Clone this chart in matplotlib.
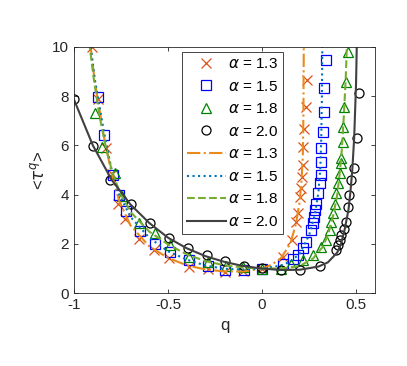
import matplotlib
matplotlib.use("Agg")
import matplotlib.pyplot as plt

plt.rcParams['font.family'] = ['Liberation Sans', 'DejaVu Sans']
plt.rcParams['mathtext.fontset'] = 'dejavusans'

# ---- marker data (simulation) ----
q13 = [-0.905, -0.875, -0.83, -0.80, -0.765, -0.73, -0.655, -0.575, -0.496, -0.39, -0.29, -0.195,
       -0.10, 0.0, 0.11, 0.16, 0.18, 0.19, 0.20, 0.205, 0.212, 0.218, 0.218, 0.221, 0.232, 0.241]
t13 = [10.0, 7.9, 5.9, 4.85, 3.64, 3.0, 2.2, 1.75, 1.41, 1.08, 0.97, 0.87,
       0.88, 1.0, 1.45, 2.15, 2.9, 3.25, 3.9, 4.26, 4.73, 5.2, 5.95, 6.65, 7.57, 8.66]

q15 = [-0.875, -0.84, -0.795, -0.76, -0.722, -0.647, -0.572, -0.49, -0.389, -0.29, -0.198, -0.094,
       0.0, 0.11, 0.164, 0.19, 0.218, 0.235, 0.262, 0.271, 0.276, 0.283, 0.289, 0.298, 0.307,
       0.312, 0.312, 0.316, 0.325, 0.328, 0.328, 0.339]
t15 = [7.95, 6.42, 4.8, 3.98, 3.33, 2.53, 1.98, 1.68, 1.35, 1.1, 0.95, 0.95,
       1.0, 1.2, 1.37, 1.54, 1.82, 2.09, 2.56, 2.83, 3.1, 3.37, 3.64, 4.05, 4.46,
       4.8, 5.34, 5.88, 6.56, 7.37, 8.32, 9.47]

q18 = [-0.888, -0.849, -0.78, -0.745, -0.652, -0.572, -0.49, -0.389, -0.29, -0.19, -0.10, 0.0,
       0.10, 0.155, 0.218, 0.271, 0.316, 0.342, 0.36, 0.369, 0.378, 0.387, 0.396, 0.405,
       0.413, 0.419, 0.422, 0.428, 0.428, 0.437, 0.449, 0.455]
t18 = [7.3, 5.95, 4.87, 3.95, 2.85, 2.44, 1.95, 1.48, 1.27, 1.11, 1.05, 1.0,
       0.98, 1.2, 1.34, 1.54, 1.88, 2.15, 2.56, 2.9, 3.24, 3.64, 4.05, 4.46,
       4.87, 5.27, 5.47, 6.15, 6.76, 7.57, 8.59, 9.8]

q20 = [-1.0, -0.9, -0.807, -0.697, -0.597, -0.496, -0.394, -0.294, -0.195, -0.097, 0.0, 0.1,
       0.2, 0.307, 0.396, 0.405, 0.413, 0.422, 0.435, 0.449, 0.458, 0.464, 0.473, 0.49, 0.503, 0.515]
t20 = [7.87, 5.98, 4.6, 3.6, 2.85, 2.24, 1.82, 1.53, 1.29, 1.12, 1.03, 0.93,
       0.95, 1.1, 1.75, 1.95, 2.15, 2.36, 2.6, 2.9, 3.5, 3.98, 4.59, 5.1, 6.29, 8.12]

# ---- line data (theory) ----
lq13 = [-0.915, -0.89, -0.87, -0.84, -0.80, -0.76, -0.70, -0.60, -0.50, -0.40, -0.30, -0.20,
        -0.10, 0.0, 0.05, 0.10, 0.15, 0.18, 0.20, 0.21, 0.217, 0.22, 0.222]
lt13 = [10.2, 8.6, 7.7, 6.3, 4.85, 3.75, 2.75, 1.9, 1.43, 1.13, 0.96, 0.88,
        0.88, 1.0, 1.15, 1.42, 2.0, 2.8, 3.7, 4.6, 5.6, 7.2, 10.2]

lq15 = [-0.915, -0.89, -0.87, -0.84, -0.80, -0.76, -0.70, -0.60, -0.50, -0.40, -0.30, -0.20,
        -0.10, 0.0, 0.10, 0.15, 0.20, 0.25, 0.28, 0.30, 0.31, 0.315, 0.318, 0.321]
lt15 = [10.2, 8.7, 7.8, 6.5, 5.0, 4.0, 3.1, 2.25, 1.7, 1.36, 1.12, 0.99,
        0.96, 1.0, 1.12, 1.28, 1.6, 2.35, 3.15, 4.1, 5.1, 6.3, 7.8, 10.2]

lq18 = [-0.92, -0.897, -0.865, -0.83, -0.80, -0.76, -0.70, -0.60, -0.50, -0.40, -0.30, -0.20,
        -0.10, 0.0, 0.10, 0.20, 0.27, 0.32, 0.35, 0.38, 0.40, 0.415, 0.425, 0.435, 0.445, 0.452]
lt18 = [10.2, 8.8, 7.2, 5.9, 5.0, 4.15, 3.3, 2.5, 1.98, 1.57, 1.3, 1.13,
        1.04, 1.0, 1.0, 1.1, 1.4, 1.85, 2.35, 3.2, 4.0, 5.0, 5.9, 7.2, 8.7, 10.2]

lq20 = [-1.0, -0.9, -0.8, -0.7, -0.6, -0.5, -0.4, -0.3, -0.2, -0.1, 0.0, 0.1,
        0.2, 0.3, 0.35, 0.40, 0.42, 0.44, 0.46, 0.47, 0.48, 0.49, 0.50, 0.505]
lt20 = [7.85, 6.0, 4.6, 3.6, 2.85, 2.25, 1.82, 1.5, 1.27, 1.1, 1.0, 0.94,
        0.95, 1.08, 1.25, 1.65, 2.0, 2.6, 3.4, 4.1, 5.0, 6.3, 8.5, 10.5]

labels = [r'$\alpha$ = 1.3', r'$\alpha$ = 1.5', r'$\alpha$ = 1.8', r'$\alpha$ = 2.0']

fig = plt.figure(figsize=(4.07, 3.66), dpi=100)
ax = fig.add_axes([0.182, 0.199, 0.739, 0.673])

ms = 6.5
mew = 0.9
ax.plot(q13, t13, 'x', color='#D95319', ms=ms, mew=mew, label=labels[0])
ax.plot(q15, t15, 's', color='#0000FF', ms=ms, mew=mew, fillstyle='none', label=labels[1])
ax.plot(q18, t18, '^', color='#008000', ms=ms, mew=mew, fillstyle='none', label=labels[2])
ax.plot(q20, t20, 'o', color='black', ms=ms, mew=mew, fillstyle='none', label=labels[3])

lw = 1.5
ax.plot(lq13, lt13, '-.', color='#EA8A1C', lw=lw, label=labels[0])
ax.plot(lq15, lt15, ':', color='#0072BD', lw=lw, label=labels[1])
ax.plot(lq18, lt18, '--', color='#77AC30', lw=lw, label=labels[2])
ax.plot(lq20, lt20, '-', color='#404040', lw=lw, label=labels[3])

ax.set_xlim(-1, 0.6)
ax.set_ylim(0, 10)
ax.set_xticks([-1, -0.5, 0, 0.5])
ax.set_xticklabels(['-1', '-0.5', '0', '0.5'])
ax.set_yticks([0, 2, 4, 6, 8, 10])
ax.tick_params(direction='in', top=True, right=True, labelsize=11, length=3,
               color='#262626', labelcolor='#262626', width=0.6)
for s in ax.spines.values():
    s.set_color('#262626')
    s.set_linewidth(0.6)

ax.set_xlabel('q', fontsize=12, color='#262626')
ax.set_ylabel(r'<$\tau^q$>', fontsize=12, color='#262626')

leg = ax.legend(loc='upper left', bbox_to_anchor=(0.359, 0.98), borderaxespad=0,
                fontsize=11, numpoints=1, handlelength=2.5, handletextpad=0.15,
                labelspacing=0.56, borderpad=0.35, fancybox=False, framealpha=1,
                edgecolor='#262626')
leg.get_frame().set_linewidth(0.6)

fig.savefig('out.png', dpi=100)
